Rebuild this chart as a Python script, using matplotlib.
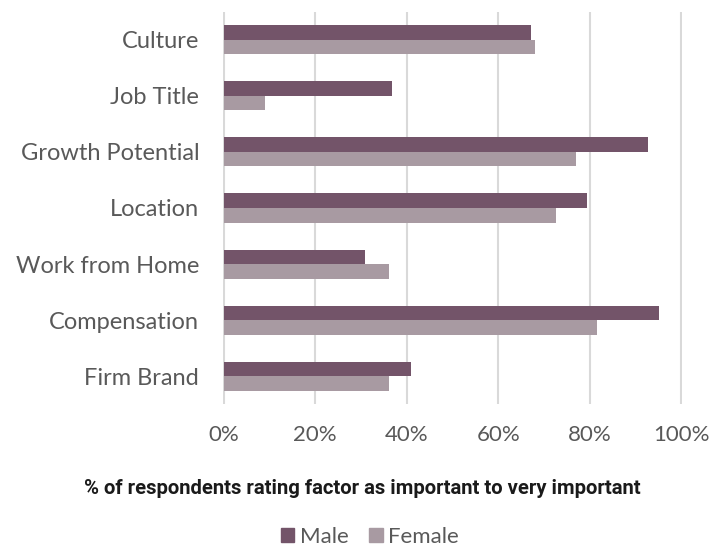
import matplotlib

matplotlib.use("Agg")
import matplotlib.pyplot as plt
import numpy as np
from matplotlib.patches import Patch

categories = ["Culture", "Job Title", "Growth Potential", "Location",
              "Work from Home", "Compensation", "Firm Brand"]
male = [67.2, 36.8, 92.7, 79.3, 30.9, 95.1, 41.0]
female = [68.1, 9.1, 77.1, 72.6, 36.1, 81.7, 36.1]
x_ticks = [0, 20, 40, 60, 80, 100]

MALE_C = "#735469"
FEMALE_C = "#a89aa2"
GRID_C = "#d9d9d9"
TEXT_C = "#595959"

plt.rcParams["font.family"] = ["Lato", "DejaVu Sans"]

fig = plt.figure(figsize=(7.28, 5.48), dpi=100)
ax = fig.add_axes([0.306, 0.262, 0.631, 0.717])

y = np.arange(len(categories))
h = 0.26
ax.barh(y - h / 2, male, height=h, color=MALE_C, zorder=3)
ax.barh(y + h / 2, female, height=h, color=FEMALE_C, zorder=3)

ax.set_ylim(len(categories) - 0.5, -0.5)
ax.set_yticks(y)
ax.set_yticklabels(categories, fontsize=17, color=TEXT_C)
ax.set_xticks(x_ticks)
ax.set_xticklabels([f"{t}%" for t in x_ticks], fontsize=16, color=TEXT_C)
ax.tick_params(axis="both", length=0)
ax.tick_params(axis="y", pad=17)
ax.tick_params(axis="x", pad=15)
ax.grid(axis="x", color=GRID_C, linewidth=1.5, zorder=0)
for s in ax.spines.values():
    s.set_visible(False)
ax.set_xlim(-0.2, 100.2)

# axis title sits below the tick labels, centred on the figure
fig.text(0.498, 0.109, "% of respondents rating factor as important to very important",
         ha="center", va="center", fontsize=14.6, fontweight="bold", color="#1a1a1a",
         family=["Roboto", "DejaVu Sans"])

handles = [Patch(color=MALE_C, label="Male"), Patch(color=FEMALE_C, label="Female")]
fig.legend(handles=handles, loc="center", bbox_to_anchor=(0.508, 0.02), ncol=2,
           frameon=False, fontsize=16, handlelength=0.6, handleheight=0.6,
           handletextpad=0.25, columnspacing=0.95, labelcolor=TEXT_C,
           borderpad=0)

fig.savefig("out.png", dpi=100)
